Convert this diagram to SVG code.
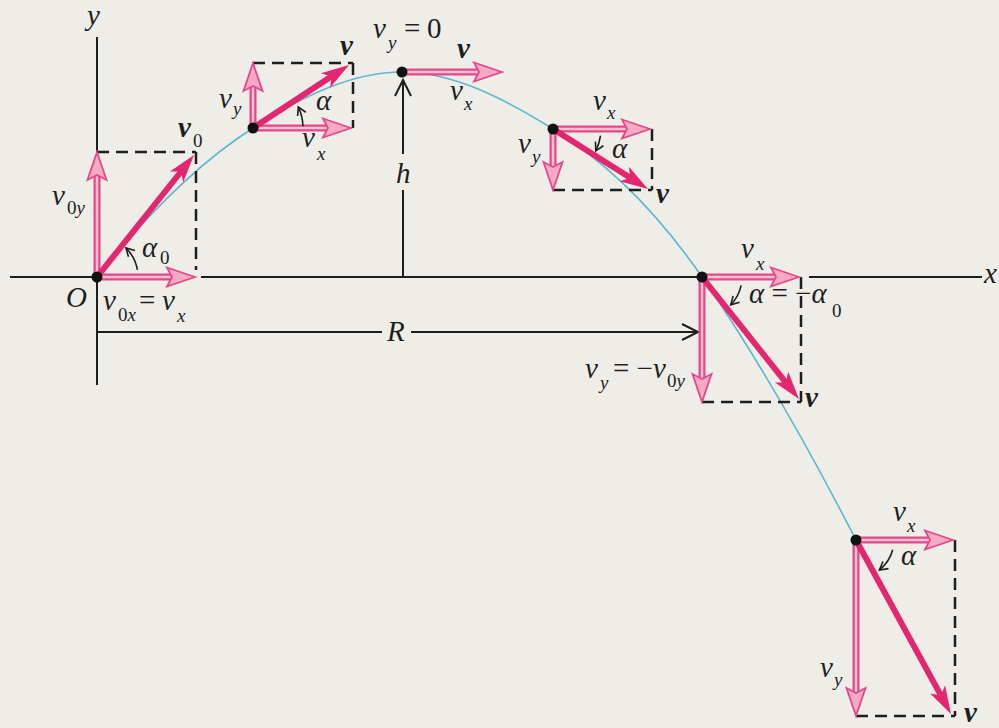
<svg xmlns="http://www.w3.org/2000/svg" xmlns:xlink="http://www.w3.org/1999/xlink" width="999" height="728" viewBox="0 0 999 728">
<style>
text{font-family:"Liberation Serif","Times New Roman",Times,serif}
.t{font-style:italic;font-size:29px;fill:#1e1e1e}
.s{font-size:19px}
.b{font-weight:bold}
.u{font-style:normal}
.ax{stroke:#1e1e1e;stroke-width:2;fill:none}
.dash{stroke:#1e1e1e;stroke-width:2.5;stroke-dasharray:12 7;fill:none}
.curve{stroke:#5fb6cf;stroke-width:1.6;fill:none}
.co{stroke:#e4488a;stroke-width:7;fill:none}
.ci{stroke:#f6c0d5;stroke-width:2.5;fill:none}
.main{stroke:#e2266f;stroke-width:6;fill:none}
.arc{stroke:#1e1e1e;stroke-width:1.6;fill:none}
.dot{fill:#111}
</style>
<defs>
<polygon id="hc" points="0,0 -28,-9.5 -23,0 -28,9.5" fill="#f4a9c5" stroke="#e4488a" stroke-width="1.8" stroke-linejoin="miter"/>
<polygon id="hm" points="0,0 -28,-8.5 -21,0 -28,8.5" fill="#e2266f"/>
<path id="ho" d="M-8,-4.5 L0,0 L-8,4.5" fill="none" stroke="#1e1e1e" stroke-width="1.6"/>
<path id="hl" d="M-16,-8 L0,0 L-16,8" fill="none" stroke="#1e1e1e" stroke-width="2"/>
</defs>
<rect width="999" height="728" fill="#eeede8"/>

<g id="axes">
<path class="ax" d="M97,37 V385"/>
<path class="ax" d="M10,277 H194 M201,277 H799 M809,277 H982"/>
<text class="t" x="87" y="25">y</text>
<text class="t" x="984" y="283">x</text>
<text class="t" x="66" y="307">O</text>
</g>

<g id="trajectory">
<path class="curve" d="M97,277 C149,211.6 201,161.4 253,128 C302.7,96.1 352.3,72 402,72 C452.3,72 502.7,97.8 553,129 C602.7,159.8 652.3,204.9 702,277 C753.3,351.4 804.7,440 856,540"/>
</g>

<g id="dimensions">
<path class="ax" d="M403,277 V190 M403,154 V82"/>
<use xlink:href="#hl" transform="translate(403,80) rotate(-90)"/>
<text class="t" x="396" y="183">h</text>
<path class="ax" d="M97,332 H382 M411,332 H697"/>
<use xlink:href="#hl" transform="translate(698,332)"/>
<text class="t" x="387" y="341">R</text>
</g>

<g id="launch">
<path class="dash" d="M97,152 H196 M196,152 V270"/>
<path class="co" d="M97,277 V176 M97,277 H174"/>
<path class="ci" d="M97,277 V176 M97,277 H174"/>
<use xlink:href="#hc" transform="translate(97,152) rotate(-90)"/>
<use xlink:href="#hc" transform="translate(195,277)"/>
<path class="main" d="M97,277 L181.5,171"/>
<use xlink:href="#hm" transform="translate(194,155) rotate(-51.5)"/>
<path class="arc" d="M137.4,269.9 A41,41 0 0 0 126,248"/>
<use xlink:href="#ho" transform="translate(126,248) rotate(-135)"/>
<circle class="dot" cx="97" cy="277" r="5.5"/>
<text class="t b" x="178" y="137">v</text><text class="t s u" x="193" y="147">0</text>
<text class="t" x="52" y="205">v</text><text class="t s" x="67" y="214"><tspan class="u">0</tspan>y</text>
<text class="t" x="142" y="257">α</text><text class="t s u" x="160" y="264">0</text>
<text class="t" x="103" y="310">v</text><text class="t s" x="118" y="321"><tspan class="u">0</tspan>x</text>
<text class="t u" x="139" y="310">=</text>
<text class="t" x="162" y="310">v</text><text class="t s" x="177" y="322">x</text>
</g>

<g id="rising">
<path class="dash" d="M253,63 H353 M353,63 V128"/>
<path class="co" d="M253,128 V87 M253,128 H329"/>
<path class="ci" d="M253,128 V87 M253,128 H329"/>
<use xlink:href="#hc" transform="translate(253,63) rotate(-90)"/>
<use xlink:href="#hc" transform="translate(351,128)"/>
<path class="main" d="M253,128 L332,76"/>
<use xlink:href="#hm" transform="translate(349,65) rotate(-33.3)"/>
<path class="arc" d="M303,126.3 A50,50 0 0 0 298.3,106.9"/>
<use xlink:href="#ho" transform="translate(298.3,106.9) rotate(-115)"/>
<circle class="dot" cx="253" cy="128" r="5.5"/>
<text class="t b" x="340" y="55">v</text>
<text class="t" x="219" y="108">v</text><text class="t s" x="233" y="115">y</text>
<text class="t" x="316" y="110">α</text>
<text class="t" x="302" y="147">v</text><text class="t s" x="317" y="160">x</text>
</g>

<g id="apex">
<path class="co" d="M402,72 H480"/>
<path class="ci" d="M402,72 H480"/>
<use xlink:href="#hc" transform="translate(502,72)"/>
<circle class="dot" cx="402" cy="72" r="5.5"/>
<text class="t" x="373" y="38">v</text><text class="t s" x="388" y="49">y</text>
<text class="t u" x="404" y="38">=</text><text class="t u" x="427" y="38">0</text>
<text class="t b" x="457" y="58">v</text>
<text class="t" x="450" y="100">v</text><text class="t s" x="464" y="110">x</text>
</g>

<g id="falling">
<path class="dash" d="M652,129 V190 M553,190 H652"/>
<path class="co" d="M553,129 H628 M553,129 V168"/>
<path class="ci" d="M553,129 H628 M553,129 V168"/>
<use xlink:href="#hc" transform="translate(650,129)"/>
<use xlink:href="#hc" transform="translate(553,190) rotate(90)"/>
<path class="main" d="M553,129 L631,178.3"/>
<use xlink:href="#hm" transform="translate(648,189) rotate(32.3)"/>
<path class="arc" d="M600.5,135.7 A48,48 0 0 1 595.8,150.8"/>
<use xlink:href="#ho" transform="translate(595.8,150.8) rotate(117)"/>
<circle class="dot" cx="553" cy="129" r="5.5"/>
<text class="t" x="593" y="110">v</text><text class="t s" x="607" y="119">x</text>
<text class="t" x="518" y="153">v</text><text class="t s" x="532" y="163">y</text>
<text class="t" x="612" y="158">α</text>
<text class="t b" x="656" y="203">v</text>
</g>

<g id="landing">
<path class="dash" d="M801,277 V402 M702,402 H801"/>
<path class="co" d="M702,277 H777 M702,277 V380"/>
<path class="ci" d="M702,277 H777 M702,277 V380"/>
<use xlink:href="#hc" transform="translate(799,277)"/>
<use xlink:href="#hc" transform="translate(702,402) rotate(90)"/>
<path class="main" d="M702,277 L786.5,383.3"/>
<use xlink:href="#hm" transform="translate(799,399) rotate(51.5)"/>
<path class="arc" d="M741.1,285.3 A40,40 0 0 1 730.8,304.8"/>
<use xlink:href="#ho" transform="translate(730.8,304.8) rotate(134)"/>
<circle class="dot" cx="702" cy="277" r="5.5"/>
<text class="t" x="741" y="258">v</text><text class="t s" x="756" y="270">x</text>
<text class="t" x="749" y="303">α <tspan class="u">= −</tspan>α</text><text class="t s u" x="832" y="317">0</text>
<text class="t" x="585" y="378">v</text><text class="t s" x="600" y="389">y</text>
<text class="t" x="613" y="378"><tspan class="u">= −</tspan>v</text><text class="t s" x="667" y="387"><tspan class="u">0</tspan>y</text>
<text class="t b" x="805" y="407">v</text>
</g>

<g id="below">
<path class="dash" d="M955,540 V716 M856,716 H955"/>
<path class="co" d="M856,540 H931 M856,540 V694"/>
<path class="ci" d="M856,540 H931 M856,540 V694"/>
<use xlink:href="#hc" transform="translate(953,540)"/>
<use xlink:href="#hc" transform="translate(856,716) rotate(90)"/>
<path class="main" d="M856,540 L941.4,696.4"/>
<use xlink:href="#hm" transform="translate(951,714) rotate(61.4)"/>
<path class="arc" d="M892.7,549.8 A38,38 0 0 1 879.4,570"/>
<use xlink:href="#ho" transform="translate(879.4,570) rotate(142)"/>
<circle class="dot" cx="856" cy="540" r="5.5"/>
<text class="t" x="893" y="521">v</text><text class="t s" x="907" y="532">x</text>
<text class="t" x="901" y="565">α</text>
<text class="t" x="820" y="677">v</text><text class="t s" x="834" y="686">y</text>
<text class="t b" x="964" y="722">v</text>
</g>
</svg>
